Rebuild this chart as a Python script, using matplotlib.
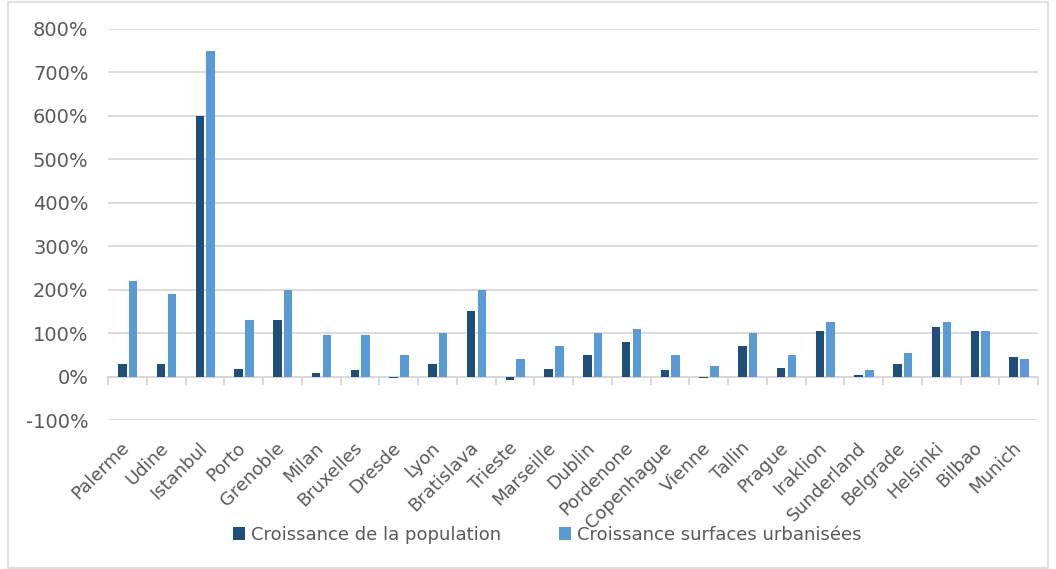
import numpy as np
import matplotlib.pyplot as plt
from matplotlib.ticker import FuncFormatter

cities = ["Palerme", "Udine", "Istanbul", "Porto", "Grenoble", "Milan", "Bruxelles",
          "Dresde", "Lyon", "Bratislava", "Trieste", "Marseille", "Dublin", "Pordenone",
          "Copenhague", "Vienne", "Tallin", "Prague", "Iraklion", "Sunderland",
          "Belgrade", "Helsinki", "Bilbao", "Munich"]
pop_growth = [30, 30, 600, 18, 130, 8, 14, -3, 30, 150, -8, 18, 50, 80,
              14, -3, 70, 20, 105, 4, 30, 115, 105, 45]
urban_growth = [220, 190, 750, 130, 200, 95, 95, 50, 100, 200, 40, 70, 100, 110,
                50, 25, 100, 50, 125, 14, 55, 125, 105, 40]

DARK = "#1F4E79"
LIGHT = "#5B9BD5"
GRID = "#D9D9D9"
TEXT = "#595959"

fig = plt.figure(figsize=(10.56, 5.69), dpi=100)
ax = fig.add_axes([108 / 1056, 1 - 420 / 569, (1038 - 108) / 1056, (420 - 29) / 569])

x = np.arange(len(cities))
w = 0.22
ax.bar(x - 0.13, pop_growth, w, color=DARK, label="Croissance de la population", zorder=3)
ax.bar(x + 0.15, urban_growth, w, color=LIGHT, label="Croissance surfaces urbanisées", zorder=3)

ax.set_ylim(-100, 800)
ax.set_xlim(-0.5, len(cities) - 0.5)
ax.set_yticks(np.arange(-100, 801, 100))
ax.yaxis.set_major_formatter(FuncFormatter(lambda v, p: f"{int(v)}%"))
ax.grid(axis="y", color=GRID, linewidth=1.3, zorder=0)
for s in ax.spines.values():
    s.set_visible(False)
ax.tick_params(axis="y", length=0, labelsize=14, labelcolor=TEXT, pad=14)

# zero axis line with category separators
ax.axhline(0, color=GRID, linewidth=1.5, zorder=2)
ax.set_xticks(x)
ax.set_xticklabels([])
ax.tick_params(axis="x", length=0)
for b in np.arange(-0.5, len(cities), 1.0):
    ax.plot([b, b], [0, -16], color=GRID, linewidth=1.5, zorder=2, clip_on=False)

for i, c in enumerate(cities):
    ax.text(i - 0.18, -143, c, rotation=45, ha="right", va="top", rotation_mode="anchor",
            fontsize=13, color=TEXT, clip_on=False)

ax.legend(loc="center", bbox_to_anchor=(0.472, -0.294), ncol=2, frameon=False,
          fontsize=13, labelcolor=TEXT, handlelength=0.7, handleheight=0.7,
          handletextpad=0.3, columnspacing=3.2)

fig.patches.append(plt.Rectangle((0.008, 0.002), 0.984, 0.994, transform=fig.transFigure,
                                 fill=False, edgecolor=GRID, linewidth=1.2))

fig.savefig("out.png", dpi=100)
